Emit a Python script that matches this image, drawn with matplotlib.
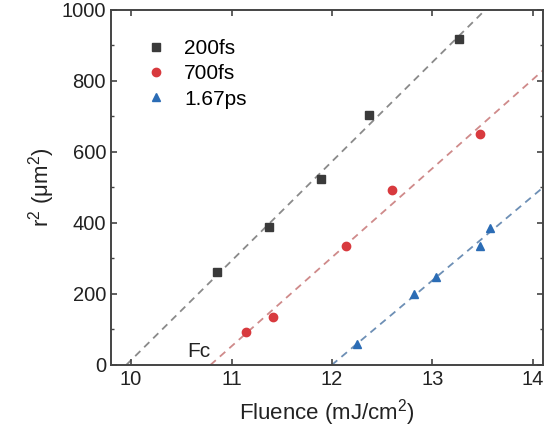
import numpy as np
import matplotlib.pyplot as plt

plt.rcParams['font.family'] = ['Liberation Sans', 'DejaVu Sans']
plt.rcParams['mathtext.fontset'] = 'custom'
plt.rcParams['mathtext.rm'] = 'Liberation Sans'
plt.rcParams['mathtext.it'] = 'Liberation Sans'
plt.rcParams['mathtext.default'] = 'regular'

# valores
x_200fs = [10.86, 11.37, 11.89, 12.37, 13.26]
y_200fs = [261, 389, 523, 705, 918]
x_700fs = [11.14, 11.41, 12.14, 12.60, 13.47]
y_700fs = [94, 134, 335, 493, 651]
x_167ps = [12.25, 12.82, 13.04, 13.47, 13.57]
y_167ps = [59, 199, 248, 335, 386]
labels = ['200fs', '700fs', '1.67ps']

series = [
    (x_200fs, y_200fs, 's', '#3a3a3a', '#8a8a8a'),
    (x_700fs, y_700fs, 'o', '#d83a3e', '#cf8a8a'),
    (x_167ps, y_167ps, '^', '#2b6cb5', '#6d8fb5'),
]

fig = plt.figure(figsize=(5.44, 4.34), dpi=100)
ax = fig.add_axes([0.204, 0.159, 0.794, 0.818])

# ajuste linear de cada série, desenhado a partir de r² = 0
for (xs, ys, mk, c, lc), lab in zip(series, labels):
    k, b = np.polyfit(xs, ys, 1)
    x0 = -b / k
    xl = np.array([x0, 15])
    ax.plot(xl, k * xl + b, '--', color=lc, lw=1.3, dashes=(4, 3), zorder=1)
    ax.plot(xs, ys, mk, color=c, ms=6, label=lab, zorder=3)

ax.text(10.67, 12, 'Fc', ha='center', va='bottom', fontsize=15, color='#222222')

ax.set_xlim(9.8, 14.1)
ax.set_ylim(0, 1000)
ax.set_xticks([10, 11, 12, 13, 14])
ax.set_yticks([0, 200, 400, 600, 800, 1000])
ax.set_yticks(np.arange(100, 1000, 200), minor=True)
ax.tick_params(which='both', direction='in', top=True, right=True, labelsize=14.5,
               color='#444444', labelcolor='#222222')
ax.tick_params(which='major', length=4, width=1.2)
ax.tick_params(which='minor', length=2.5, width=1)
for s in ax.spines.values():
    s.set_color('#444444')
    s.set_linewidth(1.4)

ax.set_xlabel('Fluence (mJ/cm$^2$)', fontsize=16, color='#222222', labelpad=6)
ax.set_ylabel('r$^2$ (μm$^2$)', fontsize=16, color='#222222', labelpad=3)

ax.legend(loc='upper left', frameon=False, fontsize=15, handletextpad=0.6,
          borderaxespad=1.0, labelspacing=0.3, handlelength=1.5)

fig.savefig('out.png', dpi=100)
